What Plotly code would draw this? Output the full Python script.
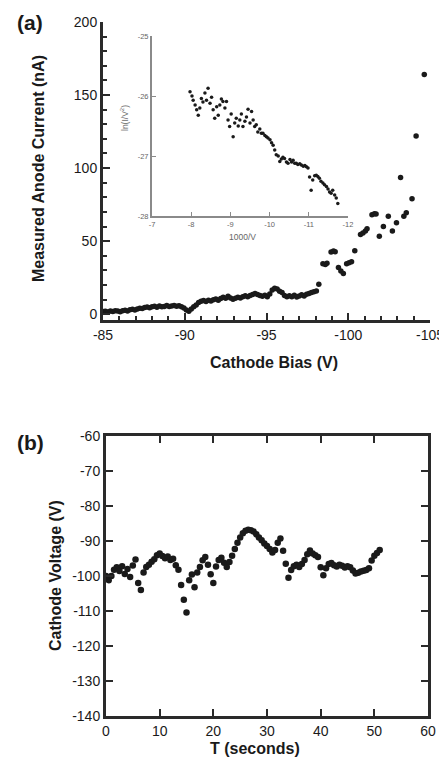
import plotly.graph_objects as go

# the page keeps the browser's 8px body margin, so the figure is drawn
# 8px smaller and every placement below is given in window pixels
W, H = 447, 761
OFF = 8
FW, FH = W - OFF, H - OFF

# ---- panel (a): anode current vs cathode bias ----
bias_v = [-85.0, -85.15, -85.3, -85.45, -85.6, -85.75, -85.9, -86.05, -86.2, -86.35,
          -86.5, -86.65, -86.8, -86.95, -87.1, -87.25, -87.4, -87.55, -87.7, -87.85,
          -88.0, -88.15, -88.3, -88.45, -88.6, -88.75, -88.9, -89.05, -89.2, -89.35,
          -89.5, -89.65, -89.8, -89.95, -90.1, -90.25, -90.4, -90.55, -90.7, -90.85,
          -91.0, -91.15, -91.3, -91.45, -91.6, -91.75, -91.9, -92.05, -92.2, -92.35,
          -92.5, -92.65, -92.8, -92.95, -93.1, -93.25, -93.4, -93.55, -93.7, -93.85,
          -94.0, -94.15, -94.3, -94.45, -94.6, -94.75, -94.9, -95.05, -95.2, -95.35,
          -95.5, -95.65, -95.8, -95.95, -96.1, -96.25, -96.4, -96.55, -96.7, -96.85,
          -97.0, -97.15, -97.3, -97.45, -97.6, -97.75, -97.9, -98.05,
          -98.2, -98.45, -98.6, -98.7, -98.95, -99.1, -99.2, -99.4, -99.55, -99.7,
          -99.9, -100.05, -100.2, -100.4, -100.75, -100.9, -101.05, -101.15, -101.45, -101.6,
          -101.7, -101.9, -102.15, -102.45, -102.7, -102.95, -103.2, -103.4, -103.55, -103.9,
          -104.15, -104.65]
anode_na = [1.8, 2.0, 1.5, 2.2, 1.9, 2.4, 2.1, 1.7, 2.3, 2.6,
            2.2, 3.0, 3.4, 2.9, 3.6, 4.1, 3.8, 4.5, 4.9, 4.4,
            5.0, 5.4, 4.8, 5.6, 5.1, 5.3, 5.9, 5.2, 5.5, 6.0,
            5.4, 5.8, 5.0, 4.2, 2.8, 2.0, 3.5, 5.1, 6.3, 8.0,
            8.8, 9.3, 8.7, 9.5, 9.0, 9.8, 10.3, 9.6, 10.8, 11.5,
            10.9, 12.2, 11.0, 10.2, 10.9, 11.6, 11.1, 12.0, 12.6, 11.9,
            12.8, 13.5, 14.1, 13.4, 12.7, 12.2, 12.9, 12.0, 13.8, 16.5,
            17.8, 17.2, 15.6, 14.9, 12.8, 11.9, 12.6, 12.0, 12.9, 11.8,
            12.5, 13.2, 12.4, 13.6, 14.2, 14.8, 15.3, 15.9,
            20.5, 34.5, 34.0, 34.8, 42.5, 43.2, 42.7, 32.0, 29.5, 27.8,
            34.5, 35.2, 35.8, 43.4, 54.5, 55.5, 57.0, 58.5, 68.0, 68.8,
            68.5, 53.4, 60.0, 67.0, 57.0, 62.5, 93.6, 67.0, 69.5, 79.0,
            122.0, 164.0]

# inset: ln(I/V^2) vs 1000/V
inv_v = [-7.97, -8.02, -8.05, -8.1, -8.14, -8.18, -8.22, -8.26, -8.3, -8.35,
         -8.39, -8.43, -8.48, -8.52, -8.56, -8.6, -8.65, -8.69, -8.73, -8.77,
         -8.81, -8.86, -8.9, -8.94, -8.98, -9.02, -9.07, -9.11, -9.15, -9.2,
         -9.24, -9.28, -9.32, -9.37, -9.41, -9.45, -9.5, -9.54, -9.58, -9.62,
         -9.66, -9.7, -9.75, -9.79, -9.83, -9.88, -9.92, -9.96, -10.01, -10.05,
         -10.09, -10.13, -10.17, -10.22, -10.26, -10.3, -10.34, -10.38, -10.43, -10.47,
         -10.52, -10.56, -10.6, -10.64, -10.68, -10.72, -10.77, -10.81, -10.86, -10.9,
         -10.94, -10.98, -11.02, -11.06, -11.1, -11.15, -11.19, -11.23, -11.27, -11.31,
         -11.36, -11.4, -11.45, -11.49, -11.53, -11.57, -11.61, -11.66, -11.7, -11.74]
ln_iv2 = [-25.93, -26.0, -26.07, -26.15, -26.23, -26.32, -26.2, -26.04, -26.1, -25.95,
          -26.07, -25.87, -26.12, -26.02, -26.23, -26.37, -26.18, -26.32, -26.15, -26.05,
          -26.09, -26.2, -26.09, -26.4, -26.51, -26.3, -26.68, -26.45, -26.37, -26.5,
          -26.4, -26.3, -26.51, -26.42, -26.35, -26.22, -26.45, -26.26, -26.4, -26.51,
          -26.48, -26.6, -26.55, -26.62, -26.62, -26.66, -26.68, -26.7, -26.73, -26.78,
          -26.82, -26.9, -26.98, -27.0, -27.09, -27.05, -27.02, -27.04, -27.1, -27.12,
          -27.06, -27.1, -27.07, -27.12, -27.12, -27.14, -27.13, -27.15, -27.17, -27.16,
          -27.18, -27.2, -27.35, -27.57, -27.4, -27.33, -27.32, -27.34, -27.37, -27.42,
          -27.45, -27.48, -27.51, -27.55, -27.6, -27.62, -27.57, -27.65, -27.7, -27.79]

# ---- panel (b): cathode voltage vs time ----
t_sec = [0.0, 0.5, 1.0, 1.5, 2.0, 2.5, 3.0, 3.5, 4.0, 4.5,
         5.0, 5.5, 6.0, 6.5, 7.0, 7.5, 8.0, 8.5, 9.0, 9.5,
         10.0, 10.5, 11.0, 11.5, 12.0, 12.5, 13.0, 13.5, 14.0, 14.5,
         15.0, 15.5, 16.0, 16.5, 17.0, 17.5, 18.0, 18.5, 19.0, 19.5,
         20.0, 20.5, 21.0, 21.5, 22.0, 22.5, 23.0, 23.5, 24.0, 24.5,
         25.0, 25.5, 26.0, 26.5, 27.0, 27.5, 28.0, 28.5, 29.0, 29.5,
         30.0, 30.5, 31.0, 31.5, 32.0, 32.5, 33.0, 33.5, 34.0, 34.5,
         35.0, 35.5, 36.0, 36.5, 37.0, 37.5, 38.0, 38.5, 39.0, 39.5,
         40.0, 40.5, 41.0, 41.5, 42.0, 42.5, 43.0, 43.5, 44.0, 44.5,
         45.0, 45.5, 46.0, 46.5, 47.0, 47.5, 48.0, 48.5, 49.0, 49.5,
         50.0, 50.5, 51.0]
cathode_v = [-100.0, -101.2, -100.0, -98.2, -97.5, -98.6, -97.2, -99.4, -98.0, -100.3,
             -97.0, -95.3, -102.0, -104.0, -99.0, -97.4, -96.8, -95.9, -95.2, -94.1,
             -93.6, -94.3, -94.9, -94.4, -95.4, -95.1, -96.9, -98.2, -102.6, -106.8,
             -110.4, -101.2, -99.6, -103.2, -99.0, -97.4, -95.5, -94.6, -96.8, -99.5,
             -102.0, -97.3, -95.4, -94.8, -96.2, -97.4, -96.0, -94.2, -92.3, -90.5,
             -89.0, -87.8, -87.1, -86.8, -86.9, -87.3, -88.1, -89.0, -89.8, -90.7,
             -91.4, -92.3, -93.3, -92.6, -90.5, -89.3, -92.8, -96.5, -100.5, -98.3,
             -97.2, -96.8, -97.4, -96.6, -95.4, -93.8, -92.7, -93.6, -94.1, -94.6,
             -97.5, -99.8, -97.8, -96.6, -96.3, -96.9, -97.3, -96.8, -97.1, -97.6,
             -97.2, -97.5, -98.4, -99.3, -99.1, -98.7, -98.5, -98.3, -97.8, -95.6,
             -94.2, -93.4, -92.6]

bias_ticks = [-85, -90, -95, -100, -105]
current_ticks = [0, 50, 100, 150, 200]
inv_ticks = [-7, -8, -9, -10, -11, -12]
ln_ticks = [-28, -27, -26, -25]
t_ticks = [0, 10, 20, 30, 40, 50, 60]
volt_ticks = [-140, -130, -120, -110, -100, -90, -80, -70, -60]

FONT = "Arial, Liberation Sans, Helvetica, sans-serif"
INK = "#1a1a1a"
AXC = "#2a2a2a"


def lab(v):
    return [str(x) for x in v]  # plain hyphen, as in the scan


def px(x):
    return (x - OFF) / FW


def py(y):
    return 1 - (y - OFF) / FH


fig = go.Figure()
fig.add_trace(go.Scatter(x=bias_v, y=anode_na, mode="markers",
                         marker=dict(size=5.5, color=INK), xaxis="x", yaxis="y"))
fig.add_trace(go.Scatter(x=inv_v, y=ln_iv2, mode="markers",
                         marker=dict(size=3.5, color=INK), xaxis="x2", yaxis="y2"))
fig.add_trace(go.Scatter(x=t_sec, y=cathode_v, mode="markers",
                         marker=dict(size=6.5, color=INK), xaxis="x3", yaxis="y3"))

main_ax = dict(showline=True, linecolor=AXC, linewidth=3, ticks="inside",
               ticklen=7, tickwidth=2, tickcolor=AXC, showgrid=False,
               zeroline=False, automargin=False,
               tickfont=dict(family=FONT, size=14, color=INK))
inset_ax = dict(showline=True, linecolor="#8a8a8a", linewidth=2, ticks="inside",
                ticklen=4, tickwidth=1, tickcolor="#8a8a8a", showgrid=False,
                zeroline=False, automargin=False,
                tickfont=dict(family=FONT, size=7.5, color="#666"))

fig.update_layout(
    template="none",
    width=FW, height=FH, margin=dict(l=0, r=0, t=0, b=0, pad=0),
    paper_bgcolor="white", plot_bgcolor="rgba(0,0,0,0)", showlegend=False,
    xaxis=dict(main_ax, domain=[px(103), px(430)], range=[-85, -105], anchor="y",
               tickvals=bias_ticks, ticktext=lab(bias_ticks),
               minor=dict(dtick=1, ticks="inside", ticklen=4, tickwidth=1.5,
                          tickcolor=AXC)),
    yaxis=dict(main_ax, domain=[py(320), py(22)], range=[-4, 200], anchor="x",
               tickvals=current_ticks, ticktext=lab(current_ticks),
               minor=dict(dtick=10, ticks="inside", ticklen=4, tickwidth=1.5,
                          tickcolor=AXC)),
    xaxis2=dict(inset_ax, domain=[px(152), px(348)], range=[-7, -12], anchor="y2",
                tickvals=inv_ticks, ticktext=lab(inv_ticks)),
    yaxis2=dict(inset_ax, domain=[py(216), py(36)], range=[-28, -25], anchor="x2",
                tickvals=ln_ticks, ticktext=lab(ln_ticks)),
    xaxis3=dict(main_ax, domain=[px(106), px(428)], range=[0, 60], anchor="y3",
                mirror="ticks", tickvals=t_ticks, ticktext=lab(t_ticks)),
    yaxis3=dict(main_ax, domain=[py(716), py(436)], range=[-140, -60], anchor="x3",
                mirror="ticks", tickvals=volt_ticks, ticktext=lab(volt_ticks)),
)

bold = dict(family=FONT, size=16, color=INK)
notes = [
    dict(text="<b>(a)</b>", x=px(30), y=py(23), font=dict(family=FONT, size=21, color=INK)),
    dict(text="<b>(b)</b>", x=px(30), y=py(442), font=dict(family=FONT, size=21, color=INK)),
    dict(text="<b>Measured Anode Current (nA)</b>", x=px(38), y=py(169), textangle=-90,
         font=bold),
    dict(text="<b>Cathode Bias (V)</b>", x=px(274), y=py(362), font=bold),
    dict(text="<b>Cathode Voltage (V)</b>", x=px(55), y=py(576), textangle=-90, font=bold),
    dict(text="<b>T (seconds)</b>", x=px(255), y=py(748), font=bold),
    dict(text="ln(I/V<sup>2</sup>)", x=px(125), y=py(118), textangle=-90,
         font=dict(family=FONT, size=8.5, color="#666")),
    dict(text="1000/V", x=px(242), y=py(237), font=dict(family=FONT, size=8.5, color="#666")),
]
for n in notes:
    fig.add_annotation(xref="paper", yref="paper", showarrow=False,
                       xanchor="center", yanchor="middle", **n)

fig.write_html("out.html")
